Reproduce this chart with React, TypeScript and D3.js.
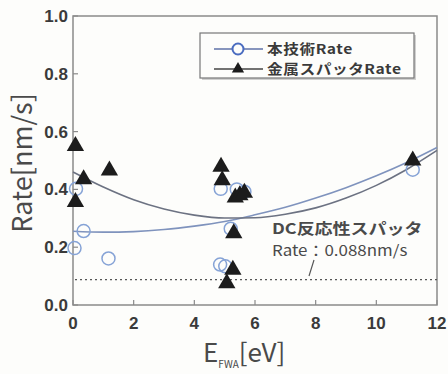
import React from "react";
import * as d3 from "d3";

const triX = [0.08, 0.08, 0.35, 1.2, 4.88, 4.92, 5.35, 5.5, 5.65, 5.3, 5.27, 5.07, 11.2];
const triY = [0.55, 0.356, 0.435, 0.465, 0.478, 0.432, 0.372, 0.38, 0.388, 0.248, 0.122, 0.075, 0.5];

const circX = [0.05, 0.35, 0.1, 1.17, 4.87, 5.4, 5.65, 5.2, 4.85, 5.02, 11.2];
const circY = [0.197, 0.256, 0.402, 0.161, 0.402, 0.4, 0.392, 0.264, 0.14, 0.134, 0.468];

const fitX = [0, 1, 2, 3, 4, 5, 6, 7, 8, 9, 10, 11, 12];
const blueFitY = [0.255, 0.252, 0.254, 0.261, 0.273, 0.289, 0.312, 0.338, 0.37, 0.406, 0.447, 0.493, 0.545];
const grayFitY = [0.46, 0.408, 0.364, 0.332, 0.311, 0.301, 0.302, 0.314, 0.336, 0.37, 0.414, 0.469, 0.535];

const dcRate = 0.088;
const xTicks = [0, 2, 4, 6, 8, 10, 12];
const yTicks = [0, 0.2, 0.4, 0.6, 0.8, 1.0];

const W = 448, H = 374;
const L = 73, R = 437, T = 16, B = 305;

export default function App() {
  const x = d3.scaleLinear().domain([0, 12]).range([L, R]);
  const y = d3.scaleLinear().domain([0, 1]).range([B, T]);
  const line = d3.line<number>().x((_, i) => x(fitX[i])).y((d) => y(d)).curve(d3.curveMonotoneX);
  const tri = d3.symbol().type(d3.symbolTriangle).size(130)() as string;
  const triLeg = d3.symbol().type(d3.symbolTriangle).size(65)() as string;
  const tickFont = "'Liberation Sans', Arial, sans-serif";
  const jp = "'Noto Sans CJK JP', 'Liberation Sans', sans-serif";
  const txt = "#3a3a3a";
  return (
    <svg width={W} height={H} style={{ position: "absolute", left: 0, top: 0, background: "#fdfdfb" }}>
      <rect x={0} y={0} width={W} height={H} fill="#fdfdfb" />
      <rect x={L} y={T} width={R - L} height={B - T} fill="none" stroke="#8a8a8a" strokeWidth={1.5} />
      {xTicks.map((t) => (
        <g key={"x" + t}>
          <line x1={x(t)} x2={x(t)} y1={B} y2={B - 5} stroke="#8a8a8a" strokeWidth={1.2} />
          <text x={x(t)} y={329} textAnchor="middle" fontFamily={tickFont} fontWeight="bold" fontSize={17} fill={txt}>{t}</text>
        </g>
      ))}
      {yTicks.map((t) => (
        <g key={"y" + t}>
          <line x1={L} x2={L + 5} y1={y(t)} y2={y(t)} stroke="#8a8a8a" strokeWidth={1.2} />
          <text x={68} y={y(t) + 6} textAnchor="end" fontFamily={tickFont} fontWeight="bold" fontSize={17} fill={txt}>{t.toFixed(1)}</text>
        </g>
      ))}
      <text transform="translate(32,163) rotate(-90)" textAnchor="middle" fontFamily={jp} fontSize={27} fill="#4a4a4a">Rate[nm/s]</text>
      <text x={203} y={362} fontFamily={jp} fontSize={26} fill="#4a4a4a">
        E<tspan fontSize={10} dy={6}>FWA</tspan><tspan dy={-6}>[eV]</tspan>
      </text>
      <line x1={L + 2} x2={R} y1={y(dcRate)} y2={y(dcRate)} stroke="#555" strokeWidth={1.2} strokeDasharray="2,3" />
      <path d={line(blueFitY) || ""} fill="none" stroke="#7f93bd" strokeWidth={1.6} />
      <path d={line(grayFitY) || ""} fill="none" stroke="#6c7282" strokeWidth={1.6} />
      {circX.map((cx, i) => (
        <circle key={"c" + i} cx={x(cx)} cy={y(circY[i])} r={6.5} fill="none" stroke="#86a3d6" strokeWidth={1.5} />
      ))}
      {triX.map((tx, i) => (
        <path key={"t" + i} d={tri} transform={`translate(${x(tx)},${y(triY[i])})`} fill="#1c1c1c" />
      ))}
      <text transform="translate(272,234) scale(1.2,1)" fontFamily={jp} fontWeight="bold" fontSize={15} fill="#4a4a4a">DC反応性スパッタ</text>
      <text transform="translate(272,256) scale(1.13,1)" fontFamily={jp} fontSize={15} fill="#4a4a4a">Rate：0.088nm/s</text>
      <line x1={314} y1={260} x2={309} y2={276} stroke="#555" strokeWidth={1.2} />
      <rect x={202} y={35} width={214} height={45} fill="#4d4d4d" opacity={0.25} />
      <rect x={200} y={33} width={214} height={45} fill="#fdfdfb" stroke="#777" strokeWidth={1.2} />
      <line x1={214} x2={263} y1={49} y2={49} stroke="#5f72a8" strokeWidth={1.3} />
      <circle cx={238} cy={49} r={5.5} fill="#fdfdfb" stroke="#4a6cc0" strokeWidth={2} />
      <text transform="translate(267,54) scale(1.16,1)" fontFamily={jp} fontWeight="bold" fontSize={13.5} letterSpacing={0.5} fill="#3a3a3a">本技術Rate</text>
      <line x1={214} x2={263} y1={69} y2={69} stroke="#444" strokeWidth={1.3} />
      <path d={triLeg} transform="translate(238,69)" fill="#1c1c1c" />
      <text transform="translate(267,74) scale(1.16,1)" fontFamily={jp} fontWeight="bold" fontSize={13.5} letterSpacing={0.5} fill="#3a3a3a">金属スパッタRate</text>
    </svg>
  );
}
